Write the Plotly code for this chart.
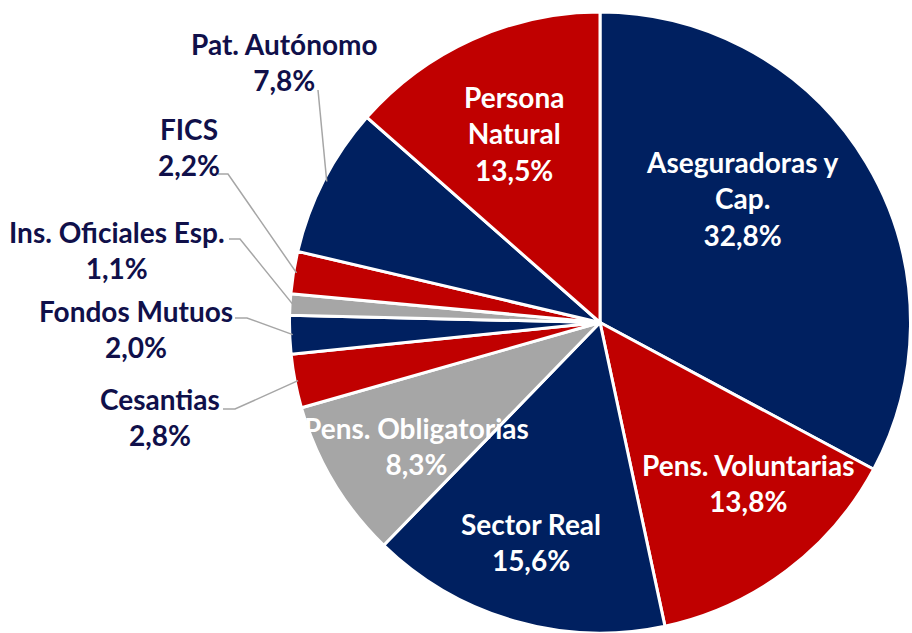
import math
import plotly.graph_objects as go

# ---- data ----
categories = ["Aseguradoras y Cap.", "Pens. Voluntarias", "Sector Real", "Pens. Obligatorias",
              "Cesantias", "Fondos Mutuos", "Ins. Oficiales Esp.", "FICS",
              "Pat. Autónomo", "Persona Natural"]
shares = [32.8, 13.8, 15.6, 8.3, 2.8, 2.0, 1.1, 2.2, 7.8, 13.5]
label_texts = ["Aseguradoras y<br>Cap.", "Pens. Voluntarias", "Sector Real", "Pens. Obligatorias",
               "Cesantias", "Fondos Mutuos", "Ins. Oficiales Esp.", "FICS",
               "Pat. Autónomo", "Persona<br>Natural"]

# ---- style ----
NAVY, RED, GRAY = "#002060", "#C00000", "#A6A6A6"
slice_colors = [NAVY, RED, NAVY, GRAY, RED, NAVY, GRAY, RED, NAVY, RED]
TEXT_DARK = "#10104A"
FONT = "Lato"
FSIZE = 28
W, H = 912, 633
TOP = 12.0
R = (H - TOP) / 2
CX, CY = 600.0, TOP + R

# label layout (pixel positions of label centres)
inside_pos = {0: (742, 198), 1: (748, 483), 2: (531, 542), 3: (416, 446), 9: (514, 133)}
outside_pos = {8: (284, 62), 7: (189, 147), 6: (117, 250), 5: (136, 329), 4: (160, 417)}
# leader line start and elbow (pixels)
leader_start = {8: [(318, 90)], 7: [(218, 174), (228, 174)], 6: [(229, 239), (240, 239)],
                5: [(235, 318), (247, 318)], 4: [(223, 409), (235, 409)]}


def px(x):
    return x / W


def py(y):
    return 1 - y / H


fig = go.Figure(go.Pie(
    labels=categories, values=shares, sort=False, direction="clockwise", rotation=0,
    marker=dict(colors=slice_colors, line=dict(color="white", width=3)),
    textinfo="none", hoverinfo="label+percent", showlegend=False,
    domain=dict(x=[(CX - R) / W, (CX + R) / W], y=[0, 1 - TOP / H]),
))

annotations = []
shapes = []
total = sum(shares)
cum = 0.0
for i, v in enumerate(shares):
    mid = (cum + v / 2) / total * 2 * math.pi
    cum += v
    pct = f"{v:.1f}".replace(".", ",") + "%"
    if i in inside_pos:
        x, y = inside_pos[i]
        color = "white"
    else:
        x, y = outside_pos[i]
        color = TEXT_DARK
        tip = (CX + (R - 3) * math.sin(mid), CY - (R - 3) * math.cos(mid))
        pts = leader_start[i] + [tip]
        path = "M " + " L ".join(f"{px(a):.5f},{py(b):.5f}" for a, b in pts)
        shapes.append(dict(type="path", path=path, xref="paper", yref="paper",
                           line=dict(color="#A6A6A6", width=1.5)))
    annotations.append(dict(x=px(x), y=py(y), xref="paper", yref="paper", showarrow=False,
                            xanchor="center", yanchor="middle",
                            text=f"<b>{label_texts[i]}<br>{pct}</b>", align="center",
                            font=dict(family=FONT, size=FSIZE, color=color)))

fig.update_layout(
    width=W, height=H, margin=dict(l=0, r=0, t=0, b=0),
    paper_bgcolor="white", plot_bgcolor="white",
    annotations=annotations, shapes=shapes,
    font=dict(family=FONT),
)

fig.write_html("out.html", config={"displayModeBar": False},
               post_script="document.body.style.margin='0px';")
